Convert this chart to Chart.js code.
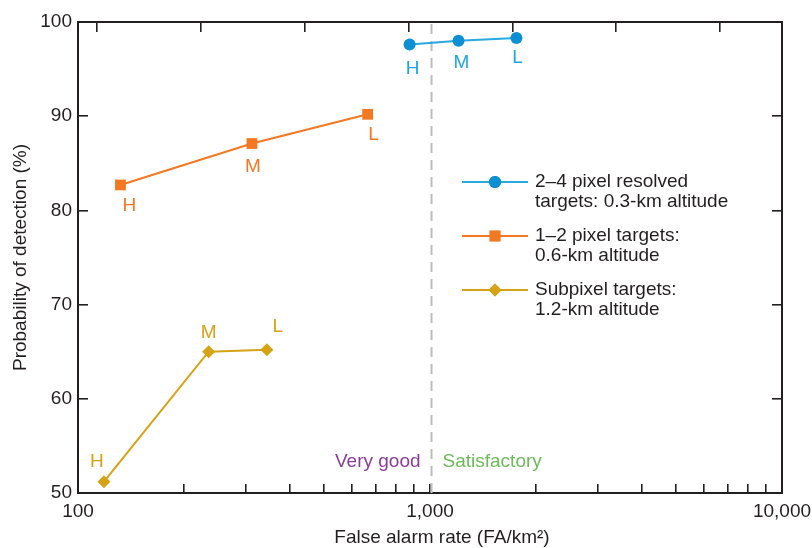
<!DOCTYPE html>
<html><head><meta charset="utf-8">
<script src="https://cdn.jsdelivr.net/npm/chart.js@4.4.0/dist/chart.umd.min.js"></script>
<style>html,body{margin:0;padding:0;background:#fff}canvas{display:block}</style>
</head><body>
<canvas id="c" width="812" height="548"></canvas>
<script>
// ---------- DATA ----------
const pointLabels = ['H', 'M', 'L'];
const resolvedFA = [875, 1205, 1760];
const resolvedPD = [97.6, 98.0, 98.3];
const pixelFA = [132, 312, 665];
const pixelPD = [82.7, 87.1, 90.2];
const subpixelFA = [118.5, 235, 344];
const subpixelPD = [51.2, 65.0, 65.2];
const boundaryFA = 1010;
const xTickValues = [100,200,300,400,500,600,700,800,900,1000,2000,3000,4000,5000,6000,7000,8000,9000,10000];
const yTickValues = [50, 60, 70, 80, 90, 100];
const topTickValues = [0, 1, 2, 3, 4, 5, 6];
const regionLabels = ['Very good', 'Satisfactory'];
const seriesNames = [
  ['2\u20134 pixel resolved', 'targets: 0.3-km altitude'],
  ['1\u20132 pixel targets:', '0.6-km altitude'],
  ['Subpixel targets:', '1.2-km altitude']
];
const xTitle = 'False alarm rate (FA/km\u00B2)';
const yTitle = 'Probability of detection (%)';

// ---------- STYLE ----------
const FONT = '"Liberation Sans", Arial, Helvetica, sans-serif';
const INK = '#231f20';
const BLUE_LINE = '#2aa8e0', BLUE_PT = '#0c8fd3', BLUE_TXT = '#1ea6e2';
const ORANGE = '#f47721';
const GOLD = '#d5a315';
const labelOffsets = [
  [[3, 24], [3, 22], [1, 20]],
  [[9, 21], [1, 23], [6, 20]],
  [[-7, -20], [0, -19], [11, -23]]
];
const labelColors = [BLUE_TXT, ORANGE, GOLD];

function pts(xs, ys) { return xs.map((x, i) => ({x: x, y: ys[i]})); }

const datasets = [
  {label: seriesNames[0].join(' '), data: pts(resolvedFA, resolvedPD), borderColor: BLUE_LINE, backgroundColor: BLUE_PT,
   pointBackgroundColor: BLUE_PT, pointBorderColor: BLUE_PT, pointStyle: 'circle', pointRadius: 6, borderWidth: 2, pointBorderWidth: 0},
  {label: seriesNames[1].join(' '), data: pts(pixelFA, pixelPD), borderColor: ORANGE, backgroundColor: ORANGE,
   pointBackgroundColor: ORANGE, pointBorderColor: ORANGE, pointStyle: 'rect', pointRadius: 7.6, borderWidth: 2, pointBorderWidth: 0},
  {label: seriesNames[2].join(' '), data: pts(subpixelFA, subpixelPD), borderColor: GOLD, backgroundColor: GOLD,
   pointBackgroundColor: GOLD, pointBorderColor: GOLD, pointStyle: 'rectRot', pointRadius: 6.5, borderWidth: 2, pointBorderWidth: 0},
  {label: 'boundary', data: [{x: boundaryFA, y: 50}, {x: boundaryFA, y: 100}], borderColor: '#bcbcbc', borderWidth: 2,
   borderDash: [10, 7], pointRadius: 0, order: 10}
];

const pointLabelPlugin = {
  id: 'pointLabels',
  afterDatasetsDraw(chart) {
    const ctx = chart.ctx;
    ctx.save();
    ctx.font = '19px ' + FONT;
    ctx.textAlign = 'center';
    ctx.textBaseline = 'middle';
    for (let d = 0; d < 3; d++) {
      const meta = chart.getDatasetMeta(d);
      ctx.fillStyle = labelColors[d];
      meta.data.forEach((el, i) => {
        const o = labelOffsets[d][i];
        ctx.fillText(pointLabels[i], el.x + o[0], el.y + o[1]);
      });
    }
    const xs = chart.scales.x;
    const bx = xs.getPixelForValue(boundaryFA);
    ctx.textBaseline = 'alphabetic';
    ctx.textAlign = 'right';
    ctx.fillStyle = '#8b3d98';
    ctx.fillText(regionLabels[0], bx - 11, 467);
    ctx.textAlign = 'left';
    ctx.fillStyle = '#6cbb5b';
    ctx.fillText(regionLabels[1], bx + 11, 467);
    // x-axis title (offset to the right of the axis centre as in the original)
    ctx.textAlign = 'center';
    ctx.fillStyle = INK;
    ctx.fillText(xTitle, (chart.chartArea.left + chart.chartArea.right) / 2 + 12, 543);
    ctx.restore();
  }
};

const legendPlugin = {
  id: 'customLegend',
  afterDraw(chart) {
    const ctx = chart.ctx;
    const rowsY = [182, 236, 290];
    ctx.save();
    ctx.font = '19px ' + FONT;
    for (let d = 0; d < 3; d++) {
      const ds = chart.data.datasets[d];
      const y = rowsY[d];
      ctx.strokeStyle = ds.borderColor;
      ctx.lineWidth = 2;
      ctx.setLineDash([]);
      ctx.beginPath();
      ctx.moveTo(462, y);
      ctx.lineTo(528, y);
      ctx.stroke();
      ctx.fillStyle = ds.pointBackgroundColor;
      Chart.helpers.drawPoint(ctx, {pointStyle: ds.pointStyle, radius: ds.pointRadius, borderWidth: 0, rotation: 0}, 495, y);
      ctx.fill();
      ctx.fillStyle = INK;
      ctx.textAlign = 'left';
      ctx.textBaseline = 'alphabetic';
      ctx.fillText(seriesNames[d][0], 535, y + 4.5);
      ctx.fillText(seriesNames[d][1], 535, y + 25);
    }
    ctx.restore();
  }
};

const tickFont = {family: FONT, size: 19};
function noPad(s) { s.paddingLeft = 0; s.paddingRight = 0; s.paddingTop = 0; s.paddingBottom = 0; }

new Chart(document.getElementById('c'), {
  type: 'line',
  data: {datasets: datasets},
  options: {
    responsive: false,
    devicePixelRatio: 1,
    animation: false,
    layout: {padding: {left: 0, top: 22, right: 30, bottom: 0}},
    plugins: {legend: {display: false}, tooltip: {enabled: false}},
    elements: {line: {tension: 0}},
    scales: {
      x: {
        type: 'logarithmic', position: 'bottom', min: 100, max: 10000,
        afterBuildTicks: s => { s.ticks = xTickValues.map(v => ({value: v})); },
        afterFit: s => { s.height = 55; noPad(s); },
        border: {display: true, color: INK, width: 2},
        grid: {drawOnChartArea: false, drawTicks: true, tickLength: -9, color: INK, lineWidth: 1.6},
        ticks: {
          font: tickFont, color: INK, padding: 16, autoSkip: false, maxRotation: 0,
          callback: v => (Math.abs(Math.log10(v) % 1) < 1e-9 ? v.toLocaleString('en-US') : '')
        },
        title: {display: false}
      },
      xTop: {
        type: 'linear', position: 'top', min: -0.1827, max: 6.596,
        afterBuildTicks: s => { s.ticks = topTickValues.map(v => ({value: v})); },
        afterFit: s => { s.height = 0; noPad(s); },
        border: {display: true, color: INK, width: 2},
        grid: {drawOnChartArea: false, drawTicks: true, tickLength: -10, color: INK, lineWidth: 1.6},
        ticks: {display: false}
      },
      y: {
        type: 'linear', position: 'left', min: 50, max: 100,
        afterBuildTicks: s => { s.ticks = yTickValues.map(v => ({value: v})); },
        afterFit: s => { s.width = 78; noPad(s); },
        border: {display: true, color: INK, width: 2},
        grid: {drawOnChartArea: false, drawTicks: true, tickLength: -10, color: INK, lineWidth: 1.6},
        ticks: {font: tickFont, color: INK, padding: 16},
        title: {display: true, text: yTitle, font: tickFont, color: INK, padding: {top: 9, bottom: 0}}
      },
      yRight: {
        type: 'linear', position: 'right', min: 50, max: 100,
        afterBuildTicks: s => { s.ticks = yTickValues.map(v => ({value: v})); },
        afterFit: s => { s.width = 0; noPad(s); },
        border: {display: true, color: INK, width: 2},
        grid: {drawOnChartArea: false, drawTicks: true, tickLength: -10, color: INK, lineWidth: 1.6},
        ticks: {display: false}
      }
    }
  },
  plugins: [pointLabelPlugin, legendPlugin]
});
</script>
</body></html>
